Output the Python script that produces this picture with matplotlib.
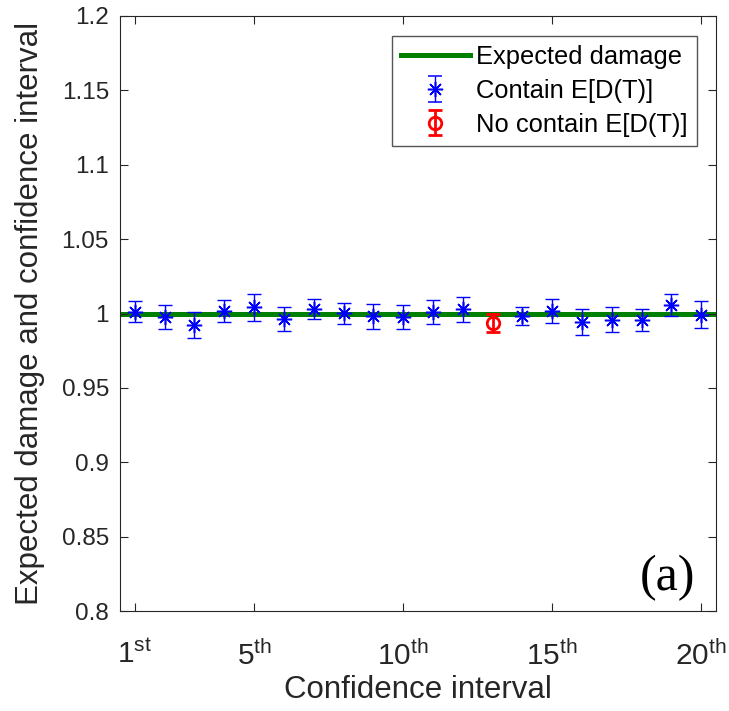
import numpy as np
import matplotlib
matplotlib.use('Agg')
import matplotlib.pyplot as plt

plt.rcParams['font.family'] = 'Liberation Sans'
plt.rcParams['mathtext.fontset'] = 'custom'
plt.rcParams['mathtext.rm'] = 'Liberation Sans'
plt.rcParams['mathtext.it'] = 'Liberation Sans:italic'

# data
ci = np.arange(1, 21)
estimate = [1.0011, 0.9977, 0.9921, 1.0016, 1.0041, 0.9962, 1.0029, 1.0002, 0.9982, 0.9977,
            1.0011, 1.0027, 0.9937, 0.9984, 1.0018, 0.9943, 0.9958, 0.9955, 1.0058, 0.9991]
half_width = [0.0070, 0.0083, 0.0086, 0.0074, 0.0092, 0.0080, 0.0066, 0.0070, 0.0084, 0.0083,
              0.0082, 0.0083, 0.0058, 0.0060, 0.0080, 0.0087, 0.0084, 0.0074, 0.0074, 0.0090]
expected = 1.0
miss = [13]
tick_pos = [1, 5, 10, 15, 20]
tick_lab = [r'$1^{\mathrm{st}}$', r'$5^{\mathrm{th}}$', r'$10^{\mathrm{th}}$',
            r'$15^{\mathrm{th}}$', r'$20^{\mathrm{th}}$']

est = np.array(estimate)
hw = np.array(half_width)
bad = np.isin(ci, miss)

fig = plt.figure(figsize=(7.29, 7.11), dpi=100)
ax = fig.add_axes([0.1646, 0.1406, 0.8176, 0.8369])

ax.plot([0.5, 20.5], [expected, expected], color=(0, 0.5, 0), lw=3.6,
        label='Expected damage', zorder=1)
# intervals that contain the expected value (asterisk with a dot in the middle)
ax.errorbar(ci[~bad], est[~bad], yerr=hw[~bad], fmt='none', ecolor='b',
            capsize=4.7, elinewidth=1, capthick=1, zorder=3)
ax.plot(ci[~bad], est[~bad], ls='none', marker=(8, 2, 0), color='b', ms=11, mew=1.1, zorder=4)
ax.plot(ci[~bad], est[~bad], ls='none', marker='o', color='b', ms=3, zorder=4)
# interval that misses it
ax.errorbar(ci[bad], est[bad], yerr=hw[bad], fmt='o', color='r', mfc='none', ms=9,
            capsize=4.7, elinewidth=2, capthick=2, mew=2, label='No contain E[D(T)]', zorder=3)

# legend proxy for the blue series
ax.errorbar([np.nan], [np.nan], yerr=[0.01], marker=(8, 2, 0), ls='none', color='b',
            ms=11, mew=1.1, capsize=4.7, elinewidth=1, capthick=1, label='Contain E[D(T)]')

ax.set_xlim(0.5, 20.5)
ax.set_ylim(0.8, 1.2)
ax.set_yticks(np.arange(0.8, 1.2001, 0.05))
ax.set_yticklabels(['0.8', '0.85', '0.9', '0.95', '1', '1.05', '1.1', '1.15', '1.2'])
ax.set_xticks(tick_pos)
ax.set_xticklabels(tick_lab)
ax.tick_params(direction='in', length=6, width=0.8, top=True, right=True, colors='#262626')
ax.tick_params(axis='y', labelsize=17.5, pad=8)
ax.tick_params(axis='x', labelsize=21.5, pad=21)
for s in ax.spines.values():
    s.set_color('#262626')
    s.set_linewidth(0.8)

ax.set_xlabel('Confidence interval', fontsize=22.5, color='#262626', labelpad=3)
ax.set_ylabel('Expected damage and confidence interval', fontsize=22.5, color='#262626',
              labelpad=12)

ax.text(0.918, 0.055, '(a)', transform=ax.transAxes, fontsize=36, family='Liberation Serif',
        ha='center', va='center')

handles, labels = ax.get_legend_handles_labels()
order = [labels.index(n) for n in ['Expected damage', 'Contain E[D(T)]', 'No contain E[D(T)]']]
leg = ax.legend([handles[i] for i in order], [labels[i] for i in order],
                loc='upper right', bbox_to_anchor=(0.968, 0.966), borderaxespad=0,
                fontsize=18.4, fancybox=False, edgecolor='#555555', framealpha=1,
                handlelength=2.7, handletextpad=0.25, labelspacing=0.38, borderpad=0.35)
leg.get_frame().set_linewidth(1)

plt.savefig('out.png', dpi=100)
